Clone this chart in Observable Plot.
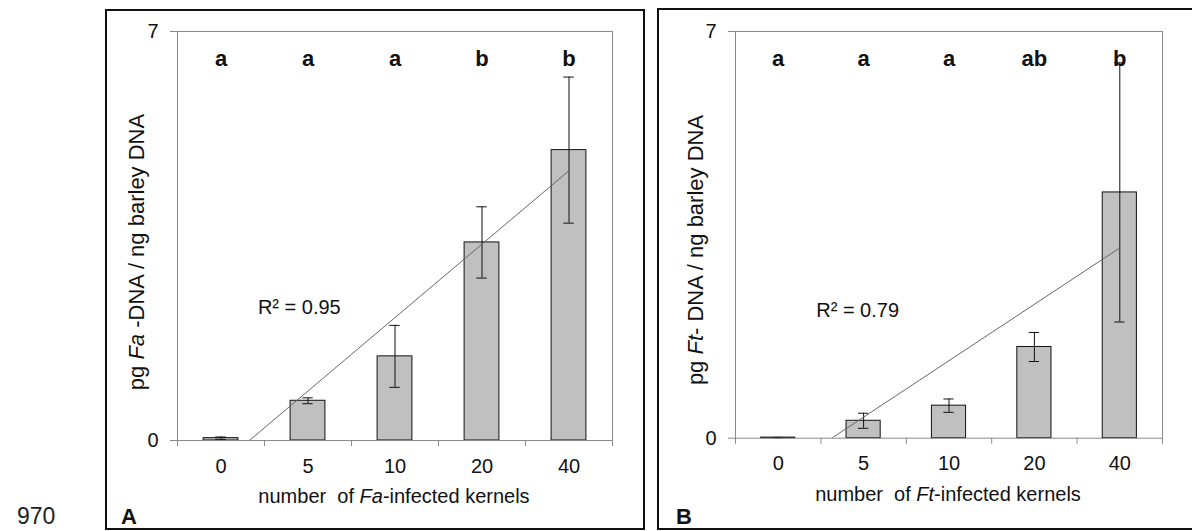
<!DOCTYPE html>
<html><head><meta charset="utf-8">
<script src="https://cdn.jsdelivr.net/npm/d3@7"></script>
<script src="https://cdn.jsdelivr.net/npm/@observablehq/plot@0.6"></script>
<style>
html,body{margin:0;padding:0;background:#fff;}
#page{position:relative;width:1192px;height:531px;overflow:hidden;background:#fff;font-family:"Liberation Sans",Arial,sans-serif;color:#111;}
.box{position:absolute;box-sizing:border-box;border:2px solid #111;}
.abs{position:absolute;white-space:nowrap;line-height:1;}
.ylab{position:absolute;transform:translate(-50%,-50%) rotate(-90deg);white-space:nowrap;font-size:22px;line-height:1;}
.xlab{position:absolute;transform:translate(-50%,-50%);white-space:nowrap;font-size:20px;line-height:1;}
.plot{position:absolute;}
</style></head><body><div id="page"></div>
<script>
// ---- data ----
const kernels = ["0", "5", "10", "20", "40"];
const faMean = [0.04, 0.68, 1.44, 3.39, 4.97];
const faErr  = [0.02, 0.05, 0.53, 0.61, 1.25];
const ftMean = [0.01, 0.30, 0.56, 1.57, 4.23];
const ftErr  = [0.005, 0.13, 0.115, 0.25, 2.23];
const faLetters = ["a", "a", "a", "b", "b"];
const ftLetters = ["a", "a", "a", "ab", "b"];
const yTicks = [0, 7];
const faR2 = "R\u00b2 = 0.95";
const ftR2 = "R\u00b2 = 0.79";

const page = document.getElementById("page");
const FONT = '"Liberation Sans", Arial, sans-serif';

function panel(opts) {
  const data = kernels.map((k, j) => ({i: j + 1, k, mean: opts.mean[j], err: opts.err[j], letter: opts.letters[j]}));
  const bounds = d3.range(0.5, kernels.length + 1, 1);
  return Plot.plot({
    width: opts.width, height: opts.height,
    marginLeft: opts.ml, marginRight: opts.mr, marginTop: opts.mt, marginBottom: opts.mb,
    x: {domain: [0.5, kernels.length + 0.5], axis: null},
    y: {domain: [yTicks[0], yTicks[yTicks.length - 1]], axis: null},
    style: {fontFamily: FONT, fontSize: "20px", color: "#111", background: "transparent", overflow: "visible"},
    marks: [
      Plot.rectY(data, {x1: d => d.i - 0.2, x2: d => d.i + 0.2, y: "mean", fill: "#c0c0c0", stroke: "#111", strokeWidth: 1}),
      Plot.ruleX(data, {x: "i", y1: d => d.mean - d.err, y2: d => d.mean + d.err, stroke: "#111", strokeWidth: 1}),
      Plot.ruleY(data, {x1: d => d.i - 0.06, x2: d => d.i + 0.06, y: d => d.mean + d.err, stroke: "#111", strokeWidth: 1}),
      Plot.ruleY(data, {x1: d => d.i - 0.06, x2: d => d.i + 0.06, y: d => d.mean - d.err, stroke: "#111", strokeWidth: 1}),
      Plot.linearRegressionY(data, {x: "i", y: "mean", ci: 0, stroke: "#666", strokeWidth: 1, clip: true}),
      Plot.frame({stroke: "#8a8a8a"}),
      Plot.axisY({ticks: yTicks, tickSize: 7, tickPadding: 12, tickFormat: d3.format("d"), stroke: "#8a8a8a", fill: "#111", label: null, fontSize: 20}),
      Plot.axisX({ticks: bounds, tickSize: 6, tickFormat: () => "", stroke: "#8a8a8a", label: null}),
      Plot.axisX({ticks: data.map(d => d.i), tickSize: 0, tickPadding: 18, tickFormat: i => kernels[i - 1], fill: "#111", label: null, fontSize: 20}),
      Plot.text(data, {x: "i", text: "letter", frameAnchor: "top", dy: 19, fontWeight: "bold", fontSize: 22, fill: "#111"}),
      Plot.text([opts.r2], {x: () => opts.r2x, y: () => opts.r2y, text: d => d, fontSize: 20, fill: "#111"})
    ]
  });
}

function place(el, left, top) {
  el.classList.add("plot");
  el.style.left = left + "px";
  el.style.top = top + "px";
  page.appendChild(el);
}
function addHTML(html) { page.insertAdjacentHTML("beforeend", html); }

// outer boxes
addHTML('<div class="box" style="left:105px;top:9px;width:540px;height:521px;"></div>');
addHTML('<div class="box" style="left:657px;top:8px;width:540px;height:522px;border-right:1px solid #bbb;"></div>');

// panel A
place(panel({mean: faMean, err: faErr, letters: faLetters, r2: faR2, r2x: 1.9, r2y: 2.28,
  width: 537, height: 518, ml: 71, mr: 31, mt: 21, mb: 88}), 106, 10);
// panel B
place(panel({mean: ftMean, err: ftErr, letters: ftLetters, r2: ftR2, r2x: 1.93, r2y: 2.2,
  width: 532, height: 520, ml: 77, mr: 28, mt: 23, mb: 90.3}), 658, 8);

// axis titles
addHTML('<div class="ylab" style="left:137px;top:252px;">pg <i>Fa</i> -DNA / ng barley DNA</div>');
addHTML('<div class="xlab" style="left:394px;top:496px;">number&nbsp; of <i>Fa</i>-infected kernels</div>');
addHTML('<div class="ylab" style="left:696px;top:250px;">pg <i>Ft</i>- DNA / ng barley DNA</div>');
addHTML('<div class="xlab" style="left:948px;top:494px;">number&nbsp; of <i>Ft</i>-infected kernels</div>');
// panel letters and page number
addHTML('<div class="abs" style="left:121px;top:506px;font-size:22px;font-weight:bold;">A</div>');
addHTML('<div class="abs" style="left:676px;top:506px;font-size:22px;font-weight:bold;">B</div>');
addHTML('<div class="abs" style="left:17px;top:505px;font-size:23px;color:#222;">970</div>');
</script></body></html>
